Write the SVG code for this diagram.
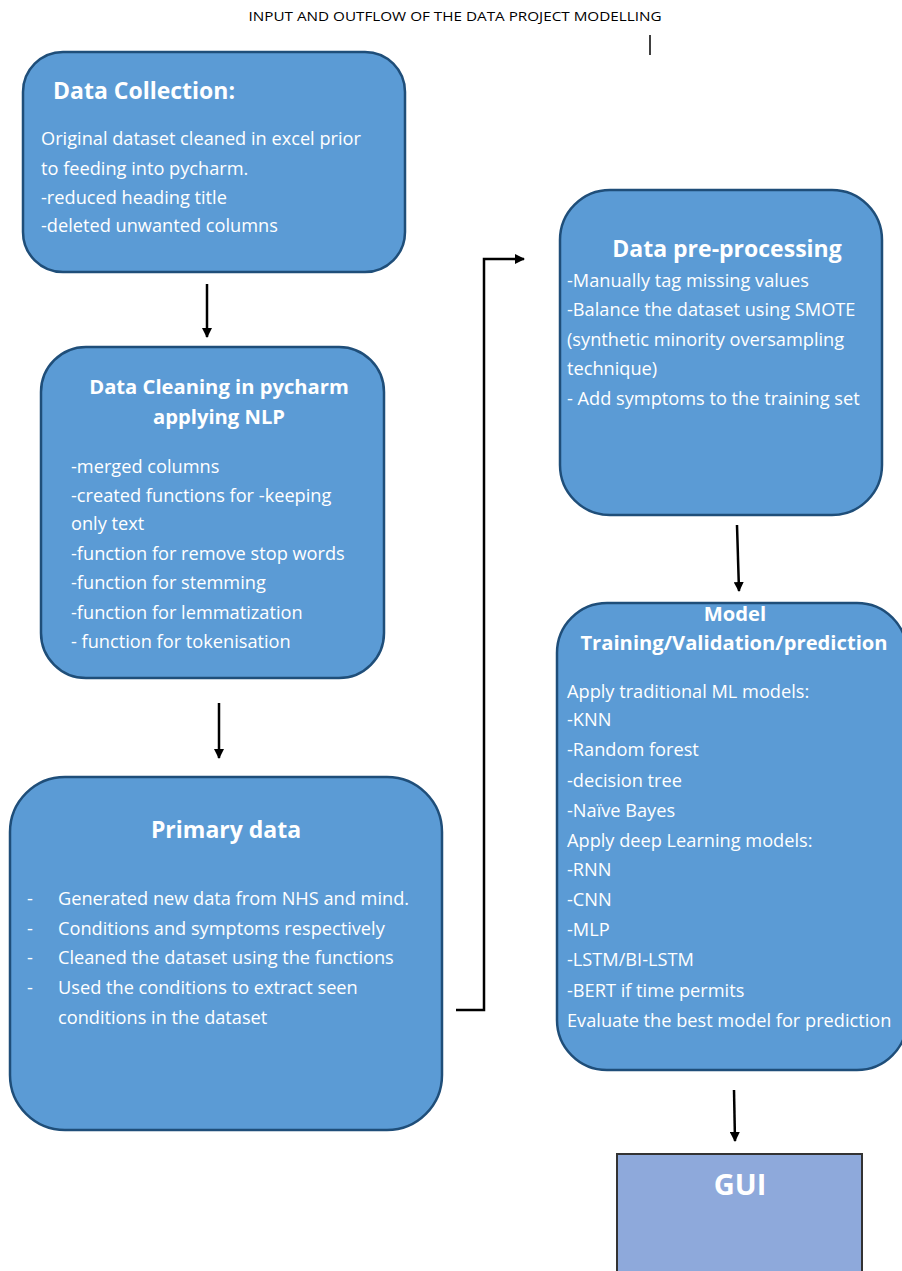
<svg xmlns="http://www.w3.org/2000/svg" width="902" height="1271" viewBox="0 0 902 1271">
<defs>
<marker id="ah" viewBox="0 0 10 10" refX="9" refY="5" markerWidth="4" markerHeight="4" orient="auto" markerUnits="strokeWidth">
<path d="M0,0 L10,5 L0,10 z" fill="#000"/>
</marker>
<style>
.box{fill:#5B9BD5;stroke:#1F4E79;stroke-width:2.5}
.gui{fill:#8EA9DB;stroke:#333;stroke-width:2}
.h{font-family:"Open Sans","Noto Sans",sans-serif;font-weight:bold;fill:#fff;font-size:23px}
.hs{font-size:20.2px}
.hg{font-size:29px}
.t{font-family:"Open Sans","Noto Sans",sans-serif;fill:#fff;font-size:18.2px}
.ttl{font-family:"Open Sans","Noto Sans",sans-serif;fill:#000;font-size:12px}
.c{fill:none;stroke:#000;stroke-width:2.5}
</style>
</defs>
<rect width="902" height="1271" fill="#fff"/>
<text class="ttl" x="455" y="21" text-anchor="middle" textLength="413" lengthAdjust="spacingAndGlyphs">INPUT AND OUTFLOW OF THE DATA PROJECT MODELLING</text>
<line x1="650" y1="35" x2="650" y2="55" stroke="#000" stroke-width="1.5"/>

<g id="connectors">
<line class="c" x1="207" y1="284" x2="207" y2="337" marker-end="url(#ah)"/>
<line class="c" x1="219" y1="703" x2="219" y2="758" marker-end="url(#ah)"/>
<polyline class="c" points="456,1010 484,1010 484,259 524,259" marker-end="url(#ah)"/>
<line class="c" x1="737" y1="525" x2="739" y2="591" marker-end="url(#ah)"/>
<line class="c" x1="734" y1="1090" x2="735" y2="1141" marker-end="url(#ah)"/>
</g>

<g id="data-collection">
<rect class="box" x="23" y="52" width="382" height="220" rx="40"/>
<text class="h" x="53" y="99">Data Collection:</text>
<text class="t" x="41" y="145">Original dataset cleaned in excel prior</text>
<text class="t" x="41" y="175">to feeding into pycharm.</text>
<text class="t" x="41" y="204">-reduced heading title</text>
<text class="t" x="41" y="232">-deleted unwanted columns</text>
</g>

<g id="data-cleaning">
<rect class="box" x="41" y="347" width="343" height="331" rx="45"/>
<text class="h hs" x="219" y="394" text-anchor="middle">Data Cleaning in pycharm</text>
<text class="h hs" x="219" y="424" text-anchor="middle">applying NLP</text>
<text class="t" x="71" y="473">-merged columns</text>
<text class="t" x="71" y="502">-created functions for -keeping</text>
<text class="t" x="71" y="530">only text</text>
<text class="t" x="71" y="560">-function for remove stop words</text>
<text class="t" x="71" y="589">-function for stemming</text>
<text class="t" x="71" y="619">-function for lemmatization</text>
<text class="t" x="71" y="648">- function for tokenisation</text>
</g>

<g id="primary-data">
<rect class="box" x="10" y="777" width="432" height="353" rx="55"/>
<text class="h" x="226" y="838" text-anchor="middle">Primary data</text>
<text class="t" x="27" y="905">-</text>
<text class="t" x="58" y="905">Generated new data from NHS and mind.</text>
<text class="t" x="27" y="935">-</text>
<text class="t" x="58" y="935">Conditions and symptoms respectively</text>
<text class="t" x="27" y="964">-</text>
<text class="t" x="58" y="964">Cleaned the dataset using the functions</text>
<text class="t" x="27" y="994">-</text>
<text class="t" x="58" y="994">Used the conditions to extract seen</text>
<text class="t" x="58" y="1024">conditions in the dataset</text>
</g>

<g id="data-preprocessing">
<rect class="box" x="560" y="190" width="322" height="325" rx="50"/>
<text class="h" x="727" y="257" text-anchor="middle">Data pre-processing</text>
<text class="t" x="567" y="287">-Manually tag missing values</text>
<text class="t" x="567" y="316">-Balance the dataset using SMOTE</text>
<text class="t" x="567" y="346">(synthetic minority oversampling</text>
<text class="t" x="567" y="375">technique)</text>
<text class="t" x="567" y="405">- Add symptoms to the training set</text>
</g>

<g id="model-training">
<rect class="box" x="557" y="603" width="350" height="467" rx="50"/>
<text class="h hs" x="735" y="621" text-anchor="middle">Model</text>
<text class="h hs" x="734" y="650" text-anchor="middle">Training/Validation/prediction</text>
<text class="t" x="567" y="698">Apply traditional ML models:</text>
<text class="t" x="567" y="726">-KNN</text>
<text class="t" x="567" y="756">-Random forest</text>
<text class="t" x="567" y="787">-decision tree</text>
<text class="t" x="567" y="817">-Naïve Bayes</text>
<text class="t" x="567" y="847">Apply deep Learning models:</text>
<text class="t" x="567" y="876">-RNN</text>
<text class="t" x="567" y="906">-CNN</text>
<text class="t" x="567" y="936">-MLP</text>
<text class="t" x="567" y="966">-LSTM/BI-LSTM</text>
<text class="t" x="567" y="997">-BERT if time permits</text>
<text class="t" x="567" y="1027">Evaluate the best model for prediction</text>
</g>

<g id="gui">
<rect class="gui" x="617" y="1154" width="245" height="130"/>
<text class="h hg" x="740" y="1195" text-anchor="middle">GUI</text>
</g>
</svg>
